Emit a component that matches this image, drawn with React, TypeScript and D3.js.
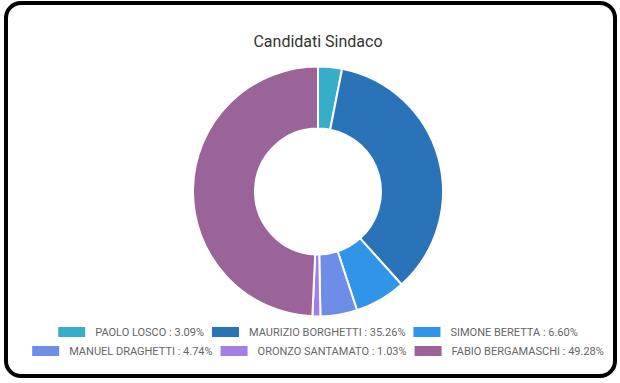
import React, { useMemo } from "react";
import * as d3 from "d3";

const candidates = [
  "PAOLO LOSCO",
  "MAURIZIO BORGHETTI",
  "SIMONE BERETTA",
  "MANUEL DRAGHETTI",
  "ORONZO SANTAMATO",
  "FABIO BERGAMASCHI",
];
const percents = [3.09, 35.26, 6.6, 4.74, 1.03, 49.28];
const colors = ["#36adc9", "#2a73b9", "#3095e9", "#6d8de8", "#a27fe4", "#9a6399"];
const legendRows = [
  [0, 1, 2],
  [3, 4, 5],
];
const title = "Candidati Sindaco";

const W = 620;
const H = 383;
const cx = 318;
const cy = 191.5;
const outerR = 125;
const innerR = 63;
const FONT = "Roboto, 'DejaVu Sans', sans-serif";
const LEG_FS = 11;
const BOX_W = 27;
const BOX_H = 10;
const BOX_GAP = 10;
const ITEM_PAD = 8;

function measure(text: string, size: number): number {
  const c = document.createElement("canvas");
  const ctx = c.getContext("2d")!;
  ctx.font = `${size}px Roboto`;
  return ctx.measureText(text).width;
}

export default function App() {
  const pie = d3
    .pie<number>()
    .sort(null)
    .value((d) => d)
    .startAngle(0)
    .endAngle(2 * Math.PI);
  const arcs = pie(percents);
  const arcGen = d3.arc<d3.PieArcDatum<number>>().innerRadius(innerR).outerRadius(outerR);

  const labels = candidates.map((c, i) => `${c} : ${percents[i].toFixed(2)}%`);

  const rows = useMemo(() => {
    return legendRows.map((row) => {
      const widths = row.map((i) => BOX_W + BOX_GAP + measure(labels[i], LEG_FS));
      const total = d3.sum(widths) + ITEM_PAD * (row.length - 1);
      let x = cx - total / 2;
      return row.map((i, k) => {
        const item = { i, x };
        x += widths[k] + ITEM_PAD;
        return item;
      });
    });
  }, []);

  const rowY = [332, 351];

  return (
    <svg width={W} height={H} style={{ position: "absolute", left: 0, top: 0 }}>
      <rect x={0} y={0} width={W} height={H} fill="#fff" />
      <rect x={6} y={3} width={609} height={373} rx={15} ry={15} fill="#fff" stroke="#000" strokeWidth={4} />
      <text x={cx} y={47} textAnchor="middle" fontFamily={FONT} fontSize={16} fill="#333">
        {title}
      </text>
      <g transform={`translate(${cx},${cy})`}>
        {arcs.map((a, i) => (
          <path key={i} d={arcGen(a) || ""} fill={colors[i]} stroke="#fff" strokeWidth={2} />
        ))}
      </g>
      {rows.map((row, r) =>
        row.map(({ i, x }) => (
          <g key={i}>
            <rect x={x} y={rowY[r] - BOX_H / 2} width={BOX_W} height={BOX_H} fill={colors[i]} />
            <text
              x={x + BOX_W + BOX_GAP}
              y={rowY[r]}
              dy="0.35em"
              fontFamily={FONT}
              fontSize={LEG_FS}
              fill="#666"
            >
              {labels[i]}
            </text>
          </g>
        ))
      )}
    </svg>
  );
}
